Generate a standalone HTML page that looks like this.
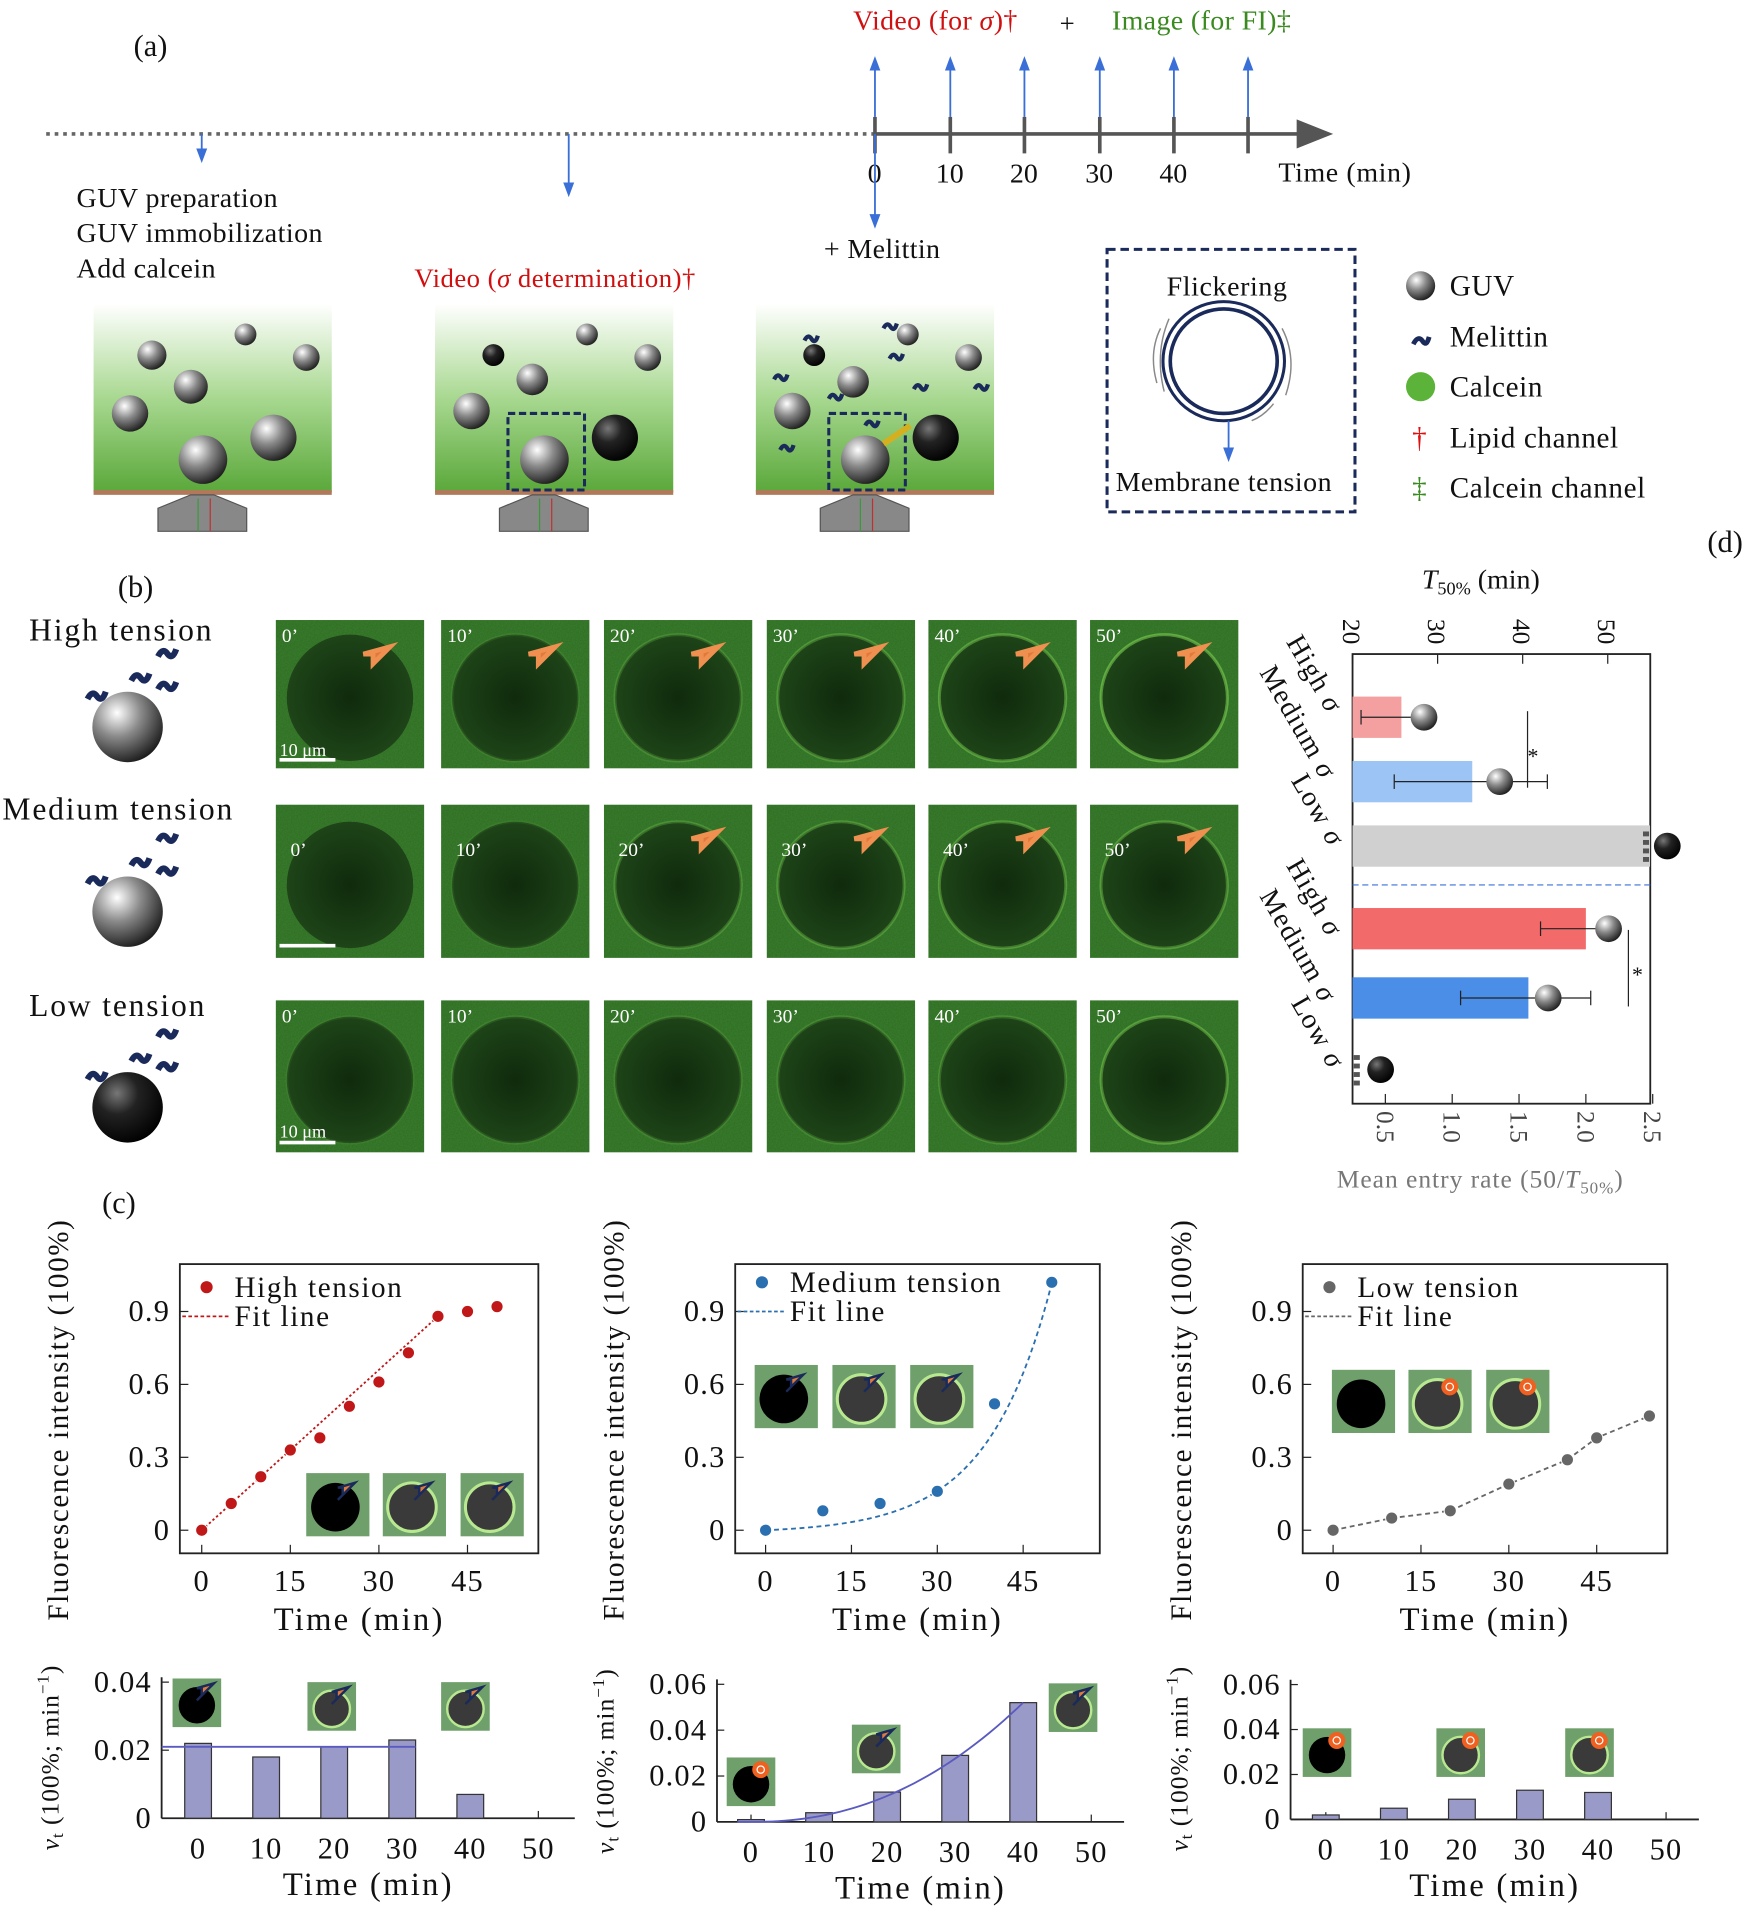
<!DOCTYPE html>
<html><head><meta charset="utf-8"><style>
html,body{margin:0;padding:0;background:#fff}
svg{display:block}
text{font-family:"Liberation Serif",serif;fill:#111}
</style></head><body>
<svg id="fig" xmlns="http://www.w3.org/2000/svg" width="1756" height="1906" viewBox="0 0 1445 1568">
<defs>
<radialGradient id="sph" cx="35%" cy="30%" r="75%"><stop offset="0" stop-color="#fff"/><stop offset="0.45" stop-color="#8a8a8a"/><stop offset="1" stop-color="#1a1a1a"/></radialGradient>
<radialGradient id="sphDark" cx="35%" cy="30%" r="75%"><stop offset="0" stop-color="#777"/><stop offset="0.4" stop-color="#222"/><stop offset="1" stop-color="#000"/></radialGradient>
<linearGradient id="bg" x1="0" y1="0" x2="0" y2="1"><stop offset="0" stop-color="#ffffff"/><stop offset="0.5" stop-color="#a8d890"/><stop offset="1" stop-color="#5aa83a"/></linearGradient>
<radialGradient id="cell" cx="50%" cy="50%" r="50%"><stop offset="0" stop-color="#0f2a0c"/><stop offset="1" stop-color="#1e4418"/></radialGradient>
<filter id="noise"><feTurbulence type="fractalNoise" baseFrequency="0.9" numOctaves="1" result="n"/><feColorMatrix type="matrix" values="0 0 0 0 0.1  0 0 0 0 0.45  0 0 0 0 0.08  0 0 0 0.5 0" /><feComposite in2="SourceGraphic" operator="in"/></filter>
<marker id="arrB" markerWidth="8" markerHeight="8" refX="4" refY="4" orient="auto"><path d="M0,1 L8,4 L0,7 z" fill="#3a6fd8"/></marker>
<marker id="arrK" markerWidth="10" markerHeight="10" refX="5" refY="5" orient="auto"><path d="M0,1 L10,5 L0,9 z" fill="#555"/></marker>
</defs>

<!-- Panel (a) -->
<g>
<text x="110" y="46" font-size="25">(a)</text>
<line x1="38" y1="110" x2="720" y2="110" stroke="#666" stroke-width="3" stroke-dasharray="3,4"/>
<line x1="720" y1="110" x2="1082" y2="110" stroke="#555" stroke-width="3" marker-end="url(#arrK)"/>
<g id="tl"></g>
<text x="1052" y="149" font-size="23" letter-spacing="0.5">Time (min)</text>
<text x="702" y="24" font-size="23" letter-spacing="0.3" style="fill:#d01010">Video (for <tspan font-style="italic">σ</tspan>)†</text>
<text x="872" y="26" font-size="22">+</text>
<text x="915" y="24" font-size="23" letter-spacing="0.3" style="fill:#3a8a20">Image (for FI)‡</text>
<line x1="166" y1="110" x2="166" y2="128" stroke="#3a6fd8" stroke-width="1.5" marker-end="url(#arrB)"/>
<line x1="468" y1="110" x2="468" y2="156" stroke="#3a6fd8" stroke-width="1.5" marker-end="url(#arrB)"/>
<line x1="720" y1="110" x2="720" y2="182" stroke="#3a6fd8" stroke-width="1.5" marker-end="url(#arrB)"/>
<text x="63" y="170" font-size="23" letter-spacing="0.4">GUV preparation</text>
<text x="63" y="199" font-size="23" letter-spacing="0.4">GUV immobilization</text>
<text x="63" y="228" font-size="23" letter-spacing="0.4">Add calcein</text>
<text x="341" y="236" font-size="22" letter-spacing="0.4" style="fill:#d01010">Video (<tspan font-style="italic">σ</tspan> determination)†</text>
<text x="678" y="212" font-size="23" letter-spacing="0.3">+ Melittin</text>
<g id="scenes"></g>
<rect x="911" y="205" width="204" height="216" fill="none" stroke="#1a2a5a" stroke-width="2.5" stroke-dasharray="7,4"/>
<text x="960" y="243" font-size="23" letter-spacing="0.5">Flickering</text>
<ellipse cx="1007" cy="297" rx="44" ry="43" fill="none" stroke="#1a2a5a" stroke-width="3"/>
<ellipse cx="1007" cy="297" rx="50" ry="49" fill="none" stroke="#1a2a5a" stroke-width="2.5"/>
<path d="M955,270 Q945,290 952,315 M962,262 Q950,290 958,322 M1055,270 Q1068,295 1058,325 M1048,332 Q1040,342 1030,346" fill="none" stroke="#888" stroke-width="1.2"/>
<line x1="1011" y1="352" x2="1011" y2="374" stroke="#3a6fd8" stroke-width="1.5" marker-end="url(#arrB)"/>
<line x1="1011" y1="352" x2="1011" y2="346" stroke="#3a6fd8" stroke-width="1.5"/>
<text x="918" y="404" font-size="23" letter-spacing="0.4">Membrane tension</text>
<g font-size="24" letter-spacing="0.5">
<circle cx="1169" cy="235" r="12" fill="url(#sph)"/><text x="1193" y="243">GUV</text>
<path d="M1163,283 q4,-8 8,-2 q3,4 5,-4" fill="none" stroke="#1a2a5a" stroke-width="4"/><text x="1193" y="285">Melittin</text>
<circle cx="1169" cy="318" r="12" fill="#5cb33a"/><text x="1193" y="326">Calcein</text>
<text x="1162" y="368" style="fill:#e01010">†</text><text x="1193" y="368">Lipid channel</text>
<text x="1162" y="409" style="fill:#3a8a20">‡</text><text x="1193" y="409">Calcein channel</text>
</g>
</g>

<!-- Panel (b) -->
<g>
<text x="97" y="491" font-size="25">(b)</text>
<text x="24" y="527" font-size="26" letter-spacing="1.5">High tension</text>
<text x="2" y="674" font-size="26" letter-spacing="1.5">Medium tension</text>
<text x="24" y="836" font-size="26" letter-spacing="1.5">Low tension</text>
<g id="micro"></g>
</g>

<!-- Panel (d) -->
<g>
<text x="1405" y="454" font-size="25">(d)</text>
<g id="pd"></g>
</g>

<!-- Panel (c) -->
<g>
<text x="84" y="998" font-size="25">(c)</text>
<g id="pc"></g>
</g>
</svg>
<script>
// ---------- data ----------
const fiTimeHigh=[0,5,10,15,20,25,30,35,40,45,50];
const fiHigh=[0,0.11,0.22,0.33,0.38,0.51,0.61,0.73,0.88,0.90,0.92];
const fiTimeMed=[0,10,20,30,40,50];
const fiMed=[0,0.08,0.11,0.16,0.52,1.02];
const fiTimeLow=[0,10,20,30,40,45,54];
const fiLow=[0,0.05,0.08,0.19,0.29,0.38,0.47];
const fiTicksX=[0,15,30,45];
const fiTicksY=[0,0.3,0.6,0.9];
const rateCats=[0,10,20,30,40];
const rateHigh=[0.022,0.018,0.021,0.023,0.007];
const rateMed=[0.001,0.004,0.013,0.029,0.052];
const rateLow=[0.002,0.005,0.009,0.013,0.012];
const rateTicksX=[0,10,20,30,40,50];
const rateTicksY1=[0,0.02,0.04];
const rateTicksY2=[0,0.02,0.04,0.06];
const dCats=["High σ","Medium σ","Low σ","High σ","Medium σ","Low σ"];
const dRate=[0.62,1.15,2.48,2.0,1.57,0];
const dT=[28.4,37.3,57,50.1,43,23.3];
const dTErrLo=[7.4,12.4,0,8,10.3,0];
const dTErrHi=[0,5.6,0,0,5,0];
const dTTicks=[20,30,40,50];
const dRateTicks=[0.5,1.0,1.5,2.0,2.5];

const NS='http://www.w3.org/2000/svg';
function mk(tag,attrs,parent,txt){const e=document.createElementNS(NS,tag);for(const k in attrs)e.setAttribute(k,attrs[k]);if(txt!==undefined)e.textContent=txt;parent.appendChild(e);return e;}
const G=id=>document.getElementById(id);

// ---------- timeline ----------
const tl=G('tl');
[720,782,843,905,966,1027].forEach((x,i)=>{
  mk('line',{x1:x,y1:96,x2:x,y2:126,stroke:'#555','stroke-width':3},tl);
  const a=mk('line',{x1:x,y1:96,x2:x,y2:52,stroke:'#3a6fd8','stroke-width':1.5,'marker-end':'url(#arrB)'},tl);
  
  
  if(i<5){const t=mk('text',{x:x-(i?12:6),y:150,'font-size':23},tl,String(i*10));
  
  }
});

// ---------- scenes ----------
const sc=G('scenes');
const sceneX=[77,358,622];
const scenePts=[[[48,42,12],[80,68,14],[30,90,15],[125,25,9],[175,44,11],[148,110,19],[90,128,20]],
 [[48,42,9],[80,62,13],[30,88,15],[125,25,9],[175,44,11],[148,110,19],[90,128,20]],
 [[48,42,9],[80,64,13],[30,88,15],[125,25,9],[175,44,11],[148,110,19],[90,128,20]]];
sceneX.forEach((x0,si)=>{
  const g=mk('g',{},sc);
  
  
  mk('rect',{x:x0,y:250,width:196,height:155,fill:'url(#bg)'},g);
  mk('rect',{x:x0,y:403,width:196,height:4,fill:'#b07a5a'},g);
  mk('path',{d:`M${x0+53},437 L${x0+126},437 L${x0+126},418 L${x0+99},407 L${x0+80},407 L${x0+53},418 Z`,fill:'#888',stroke:'#555'},g);
  mk('line',{x1:x0+86,y1:437,x2:x0+86,y2:410,stroke:'#3a9a3a'},g);
  mk('line',{x1:x0+96,y1:437,x2:x0+96,y2:410,stroke:'#c03030'},g);
  scenePts[si].forEach((p,k)=>{mk('circle',{cx:x0+p[0],cy:250+p[1],r:p[2],fill:(si>0&&(k==0||k==5))?'url(#sphDark)':'url(#sph)'},g);});
  if(si>0){mk('rect',{x:x0+60,y:340,width:63,height:63,fill:'none',stroke:'#1a2a5a','stroke-width':2.5,'stroke-dasharray':'6,3'},g);}
  if(si==2){[[15,62],[40,30],[60,78],[110,45],[130,70],[180,70],[90,100],[20,120],[105,20]].forEach(p=>{
    mk('path',{d:`M${x0+p[0]},${250+p[1]} q3,-6 6,-1 q3,4 5,-3`,fill:'none',stroke:'#1a2a5a','stroke-width':3.5},g);});
    mk('line',{x1:x0+127,y1:350,x2:x0+105,y2:365,stroke:'#d4b020','stroke-width':5},g);}
});

// ---------- micrographs ----------
const mc=G('micro');
const colX=[227,363,497,631,764,897];
const rowY=[510,662,823];
const rowH=[122,126,125];
const ringA=[[0,0.1,0.2,0.3,0.4,0.5],[0,0.08,0.25,0.3,0.35,0.35],[0.08,0.12,0.15,0.18,0.22,0.4]];
rowY.forEach((y0,r)=>{
  const sy=y0+rowH[r]/2;
  const sp=mk('circle',{cx:105,cy:y0+88,r:29,fill:r==2?'url(#sphDark)':'url(#sph)'},mc);
  
  
  [[72,y0+65],[108,y0+50],[130,y0+30],[130,y0+57]].forEach(p=>mk('path',{d:`M${p[0]},${p[1]} q4,-8 8,-2 q4,5 7,-4`,fill:'none',stroke:'#1a2a5a','stroke-width':5},mc));
  colX.forEach((x0,c)=>{
    const w=122;
    const g=mk('g',{},mc);
    
    
    mk('rect',{x:x0,y:y0,width:w,height:rowH[r],fill:'#2e6a22'},g);
    mk('rect',{x:x0,y:y0,width:w,height:rowH[r],fill:'#fff',filter:'url(#noise)',opacity:0.6},g);
    mk('circle',{cx:x0+w/2,cy:sy+3,r:52,fill:'url(#cell)',stroke:`rgba(140,230,90,${ringA[r][c]})`,'stroke-width':2.5},g);
    mk('text',{x:x0+(r==1?12:5),y:y0+(r==1?42:18),'font-size':16,style:'fill:#fff'},g,(c*10)+'’');
    if(!(r==2)&&!(r==1&&c<2)){
      const ax=x0+94,ay=y0+22;
      mk('path',{d:`M${ax},${ay} l-14,14 l0,-8 l-8,0 Z M${ax-3},${ay+3} l-10,10`,fill:'#e07a3a',stroke:'#f09050','stroke-width':4},g);}
  });
});
mk('text',{x:230,y:622,'font-size':15,style:'fill:#fff'},mc,'10 μm');
mk('line',{x1:230,y1:625,x2:276,y2:625,stroke:'#fff','stroke-width':3},mc);
mk('line',{x1:230,y1:778,x2:276,y2:778,stroke:'#fff','stroke-width':3},mc);
mk('text',{x:230,y:936,'font-size':15,style:'fill:#fff'},mc,'10 μm');
mk('line',{x1:230,y1:940,x2:276,y2:940,stroke:'#fff','stroke-width':3},mc);

// ---------- panel d ----------
const pd=G('pd');
const xR=v=>1085+v*110;
const xT=t=>1113+(t-20)*7;
const barY=[590,643,696,764,821,880];
const barH=34;
const barCol=['#f4a0a0','#9cc4f4','#d0d0d0','#f36a6a','#4a8ee8','#fff'];
const labPos=[[1058,528],[1036,553],[1062,642],[1058,712],[1036,737],[1062,825]];
mk('rect',{x:1113,y:538,width:245,height:370,fill:'none',stroke:'#222','stroke-width':1.5},pd);
mk('line',{x1:1113,y1:728,x2:1358,y2:728,stroke:'#3a6fd8','stroke-dasharray':'5,3'},pd);
dRate.forEach((v,i)=>{
  if(v>0){const b=mk('rect',{x:1113,y:barY[i]-barH/2,width:xR(v)-1113,height:barH,fill:barCol[i]},pd);
  
  }
  const lo=dT[i]-dTErrLo[i], hi=dT[i]+dTErrHi[i];
  if(dTErrLo[i]>0||dTErrHi[i]>0){mk('line',{x1:xT(lo),y1:barY[i],x2:xT(hi),y2:barY[i],stroke:'#222'},pd);
    [lo,hi].forEach(t=>mk('line',{x1:xT(t),y1:barY[i]-6,x2:xT(t),y2:barY[i]+6,stroke:'#222'},pd));}
  const s=mk('circle',{cx:Math.min(xT(dT[i]),1373),cy:barY[i],r:11,fill:i==2||i==5?'url(#sphDark)':'url(#sph)'},pd);
  
  
  const lab=mk('text',{transform:`translate(${labPos[i][0]},${labPos[i][1]}) rotate(60)`,'font-size':23,'letter-spacing':1},pd,'');
  
  
  const parts=dCats[i].split(' ');
  mk('tspan',{},lab,parts[0]+' ');mk('tspan',{'font-style':'italic'},lab,parts[1]);
});
[[1352,684],[1114,868]].forEach(p=>{for(let k=0;k<4;k++)mk('rect',{x:p[0],y:p[1]+k*7,width:5,height:4,fill:'#555'},pd);});
mk('line',{x1:1257,y1:585,x2:1257,y2:648,stroke:'#222'},pd);
mk('text',{x:1257,y:628,'font-size':18},pd,'*');
mk('line',{x1:1340,y1:765,x2:1340,y2:828,stroke:'#222'},pd);
mk('text',{x:1343,y:808,'font-size':18},pd,'*');
dTTicks.forEach(t=>{const x=xT(t);mk('line',{x1:x,y1:538,x2:x,y2:546,stroke:'#222'},pd);
  const l=mk('text',{transform:`translate(${x-8},${530}) rotate(90)`,'font-size':21,'text-anchor':'end'},pd,String(t));
  
  });
dRateTicks.forEach(v=>{const x=xR(v);mk('line',{x1:x,y1:908,x2:x,y2:900,stroke:'#222'},pd);
  const l=mk('text',{transform:`translate(${x-7},${914}) rotate(90)`,'font-size':21,style:'fill:#444'},pd,v.toFixed(1));
  
  });
const tt=mk('text',{x:1170,y:484,'font-size':23},pd,'');
mk('tspan',{'font-style':'italic'},tt,'T');mk('tspan',{'font-size':15,dy:5},tt,'50%');mk('tspan',{dy:-5},tt,' (min)');
const bt=mk('text',{x:1100,y:977,'font-size':21,'letter-spacing':0.8,style:'fill:#777'},pd,'Mean entry rate (50/');
mk('tspan',{'font-style':'italic',style:'fill:#777'},bt,'T');mk('tspan',{'font-size':14,dy:5,style:'fill:#777'},bt,'50%');mk('tspan',{dy:-5,style:'fill:#777'},bt,')');

// ---------- panel c ----------
const pc=G('pc');
function inset(x,y,kind,g){
  mk('rect',{x:x,y:y,width:52,height:52,fill:'#6f9f6a'},g);
  const fill=kind==0?'#000':'#3a3a3a';
  mk('circle',{cx:x+24,cy:y+28,r:20,fill:fill,stroke:kind==0?'none':'#b8e890','stroke-width':2.5},g);
}
function arrowIcon(x,y,g,orange){
  if(orange){mk('circle',{cx:x,cy:y,r:7,fill:'#f06020'},g);mk('circle',{cx:x,cy:y,r:3,fill:'none',stroke:'#fff'},g);}
  else mk('path',{d:`M${x+6},${y-6} l-10,10 l0,-6 l-4,0 Z M${x},${y} l-8,8`,fill:'#e07a3a',stroke:'#1a2a5a','stroke-width':2},g);
}
const fiCharts=[
 {x0:148,x1:443,ox:166,sx:4.86,t:fiTimeHigh,v:fiHigh,col:'#c01818',name:'High tension',insX:[252,315,379],insY:1212,orange:false},
 {x0:605,x1:905,ox:630,sx:4.71,t:fiTimeMed,v:fiMed,col:'#2a6fb0',name:'Medium tension',insX:[621,685,749],insY:1123,orange:false},
 {x0:1072,x1:1372,ox:1097,sx:4.82,t:fiTimeLow,v:fiLow,col:'#666',name:'Low tension',insX:[1096,1159,1223],insY:1127,orange:true}];
const yFI=v=>1259-v*200;
fiCharts.forEach((c,ci)=>{
  const g=mk('g',{},pc);
  
  
  const xs=t=>c.ox+t*c.sx;
  mk('rect',{x:c.x0,y:1040,width:c.x1-c.x0,height:238,fill:'none',stroke:'#222','stroke-width':1.5},g);
  fiTicksX.forEach(t=>{mk('line',{x1:xs(t),y1:1278,x2:xs(t),y2:1271,stroke:'#222'},g);
    mk('text',{x:xs(t),y:1309,'font-size':25,'letter-spacing':1,'text-anchor':'middle'},g,String(t));});
  fiTicksY.forEach(v=>{mk('line',{x1:c.x0,y1:yFI(v),x2:c.x0+7,y2:yFI(v),stroke:'#222'},g);
    mk('text',{x:c.x0-8,y:yFI(v)+8,'font-size':25,'letter-spacing':1,'text-anchor':'end'},g,v==0?'0':v.toFixed(1));});
  mk('text',{x:(c.x0+c.x1)/2,y:1341,'font-size':27,'letter-spacing':1.8,'text-anchor':'middle'},g,'Time (min)');
  mk('text',{transform:`translate(${c.x0-92},1168) rotate(-90)`,'font-size':24,'letter-spacing':1.3,'text-anchor':'middle'},g,'Fluorescence intensity (100%)');
  c.insX.forEach((x,k)=>{inset(x,c.insY,k,g);if(k>0||ci<2)arrowIcon(x+34,c.insY+14,g,c.orange);});
  let pts=[];
  if(ci==0){pts=[[0,0],[40,0.88]];}
  else if(ci==1){for(let t=0;t<=50;t+=1)pts.push([t,0.012*Math.exp(0.089*t)-0.012]);}
  else {c.t.forEach((t,k)=>pts.push([t,c.v[k]]));}
  mk('polyline',{points:pts.map(p=>xs(p[0])+','+yFI(p[1])).join(' '),fill:'none',stroke:c.col,'stroke-width':1.5,'stroke-dasharray':ci==0?'2,2':'4,3'},g);
  c.t.forEach((t,k)=>{const p=mk('circle',{cx:xs(t),cy:yFI(c.v[k]),r:5,fill:c.col,stroke:'#fff','stroke-width':0.8},g);
    
    });
  const ly=ci==1?1055:1059;
  mk('circle',{cx:c.x0+22,cy:ly,r:5,fill:c.col},g);
  mk('text',{x:c.x0+45,y:ly+8,'font-size':24,'letter-spacing':1.3},g,c.name);
  mk('line',{x1:c.x0+2,y1:ly+24,x2:c.x0+42,y2:ly+24,stroke:c.col,'stroke-dasharray':'3,2','stroke-width':1.5},g);
  mk('text',{x:c.x0+45,y:ly+32,'font-size':24,'letter-spacing':1.3},g,'Fit line');
});

const rateCharts=[
 {x0:133,x1:473,oy:1496,oxx:163,sy:2800,v:rateHigh,ticks:rateTicksY1,line:'flat',ins:[[142,1381,0],[253,1384,1],[363,1384,1]],orange:false},
 {x0:590,x1:925,oy:1499,oxx:618,sy:1887,v:rateMed,ticks:rateTicksY2,line:'curve',ins:[[598,1446,0],[701,1419,1],[863,1385,1]],orange:'first'},
 {x0:1062,x1:1398,oy:1497,oxx:1091,sy:1850,v:rateLow,ticks:rateTicksY2,line:null,ins:[[1072,1422,0],[1182,1422,1],[1288,1422,1]],orange:true}];
rateCharts.forEach((c,ci)=>{
  const g=mk('g',{},pc);
  
  
  const xs=t=>c.oxx+t*5.6, ys=v=>c.oy-v*c.sy;
  mk('line',{x1:c.x0,y1:c.oy,x2:c.x1,y2:c.oy,stroke:'#222','stroke-width':1.5},g);
  mk('line',{x1:c.x0,y1:c.oy,x2:c.x0,y2:ys(c.ticks[c.ticks.length-1])-4,stroke:'#222','stroke-width':1.5},g);
  rateTicksX.forEach(t=>{mk('line',{x1:xs(t),y1:c.oy,x2:xs(t),y2:c.oy-6,stroke:'#222'},g);
    mk('text',{x:xs(t),y:c.oy+33,'font-size':25,'letter-spacing':1,'text-anchor':'middle'},g,String(t));});
  c.ticks.forEach(v=>{mk('line',{x1:c.x0,y1:ys(v),x2:c.x0+6,y2:ys(v),stroke:'#222'},g);
    mk('text',{x:c.x0-8,y:ys(v)+8,'font-size':25,'letter-spacing':1,'text-anchor':'end'},g,v==0?'0':v.toFixed(2));});
  mk('text',{x:(c.x0+c.x1)/2,y:c.oy+63,'font-size':27,'letter-spacing':1.8,'text-anchor':'middle'},g,'Time (min)');
  const yl=mk('text',{transform:`translate(${c.x0-85},${c.oy-50}) rotate(-90)`,'font-size':21,'letter-spacing':0.8,'text-anchor':'middle'},g,'');
  mk('tspan',{'font-style':'italic'},yl,'v');mk('tspan',{'font-size':14,dy:4},yl,'t');mk('tspan',{dy:-4},yl,' (100%; min');mk('tspan',{'font-size':14,dy:-8},yl,'−1');mk('tspan',{dy:8},yl,')');
  c.ins.forEach(p=>{
    mk('rect',{x:p[0],y:p[1],width:40,height:40,fill:'#6f9f6a'},g);
    mk('circle',{cx:p[0]+20,cy:p[1]+22,r:15,fill:p[2]==0?'#000':'#3a3a3a',stroke:p[2]==0?'none':'#b8e890','stroke-width':2},g);
    const org=c.orange===true||(c.orange==='first'&&p[2]==0);
    arrowIcon(p[0]+28,p[1]+10,g,org);
  });
  rateCats.forEach((t,k)=>{const b=mk('rect',{x:xs(t)-11,y:ys(c.v[k]),width:22,height:c.v[k]*c.sy,fill:'#9a9ac8',stroke:'#333','stroke-width':1},g);
    
    });
  if(c.line==='flat'){mk('line',{x1:c.x0,y1:ys(0.021),x2:xs(30)+11,y2:ys(0.021),stroke:'#5a5ac0','stroke-width':1.5},g);}
  if(c.line==='curve'){const pts=[];for(let t=-2;t<=40;t++)pts.push(xs(t)+','+ys(0.052*Math.pow(Math.max(t,0)/40,2.2)));
    mk('polyline',{points:pts.join(' '),fill:'none',stroke:'#5a5ac0','stroke-width':1.5},g);}
});
</script>
</body></html>
